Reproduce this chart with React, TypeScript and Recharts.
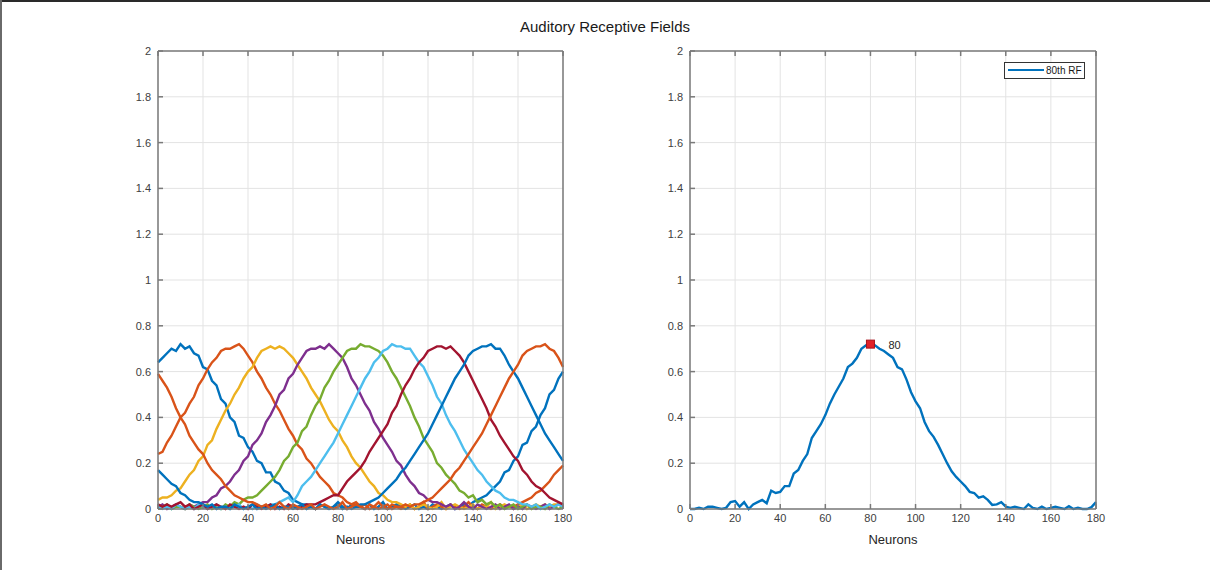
import React from 'react';
import { LineChart, ComposedChart, Line, XAxis, YAxis, CartesianGrid, Legend, ReferenceDot } from 'recharts';

const neurons = [0,2,4,6,8,10,12,14,16,18,20,22,24,26,28,30,32,34,36,38,40,42,44,46,48,50,52,54,56,58,60,62,64,66,68,70,72,74,76,78,80,82,84,86,88,90,92,94,96,98,100,102,104,106,108,110,112,114,116,118,120,122,124,126,128,130,132,134,136,138,140,142,144,146,148,150,152,154,156,158,160,162,164,166,168,170,172,174,176,178,180];

const xTicks = [0, 20, 40, 60, 80, 100, 120, 140, 160, 180];
const yTicks = [0, 0.2, 0.4, 0.6, 0.8, 1, 1.2, 1.4, 1.6, 1.8, 2];

const rfA = [0.64,0.66,0.68,0.70,0.69,0.72,0.70,0.71,0.68,0.67, 0.62,0.61,0.56,0.54,0.48,0.46,0.40,0.38,0.32,0.31, 0.27,0.25,0.21,0.20,0.16,0.16,0.12,0.11,0.08,0.07, 0.04,0.03,0.02,0.02,0.01,0.00,0.02,0.01,0.00,0.01, 0.03,0.01,0.00,0.02,0.01,0.01,0.00,0.02,0.00,0.01, 0.03,0.00,0.01,0.02,0.01,0.00,0.01,0.02,0.00,0.01, 0.00,0.02,0.01,0.00,0.01,0.02,0.00,0.01,0.02,0.01, 0.03,0.04,0.05,0.06,0.08,0.10,0.12,0.16,0.17,0.21, 0.23,0.28,0.29,0.34,0.36,0.41,0.44,0.50,0.52,0.57, 0.60];
const rfB = [0.24,0.25,0.29,0.32,0.36,0.40,0.42,0.46,0.49,0.54, 0.57,0.61,0.64,0.66,0.69,0.70,0.70,0.71,0.72,0.70, 0.67,0.64,0.60,0.57,0.53,0.50,0.46,0.43,0.39,0.35, 0.32,0.28,0.26,0.22,0.20,0.17,0.14,0.12,0.10,0.07, 0.06,0.05,0.03,0.02,0.03,0.01,0.02,0.00,0.01,0.03, 0.01,0.00,0.02,0.01,0.00,0.01,0.02,0.00,0.01,0.03, 0.00,0.01,0.02,0.01,0.00,0.02,0.01,0.00,0.01,0.03, 0.01,0.00,0.02,0.01,0.00,0.01,0.02,0.01,0.01,0.01, 0.02,0.03,0.04,0.05,0.07,0.08,0.10,0.12,0.15,0.17, 0.19];
const rfC = [0.04,0.05,0.05,0.06,0.08,0.09,0.12,0.15,0.17,0.21, 0.23,0.28,0.30,0.35,0.39,0.43,0.46,0.50,0.53,0.57, 0.60,0.62,0.66,0.69,0.70,0.71,0.70,0.71,0.70,0.68, 0.66,0.63,0.60,0.57,0.53,0.50,0.47,0.43,0.39,0.36, 0.34,0.30,0.27,0.23,0.20,0.18,0.15,0.12,0.10,0.07, 0.06,0.04,0.03,0.03,0.02,0.01,0.02,0.00,0.01,0.02, 0.01,0.00,0.01,0.03,0.00,0.01,0.02,0.01,0.00,0.01, 0.02,0.00,0.01,0.01,0.03,0.00,0.01,0.02,0.01,0.00, 0.01,0.02,0.00,0.01,0.02,0.01,0.02,0.01,0.02,0.02, 0.02];
const rfD = [0.01,0.02,0.00,0.01,0.02,0.01,0.00,0.02,0.01,0.02, 0.03,0.03,0.05,0.06,0.09,0.10,0.12,0.15,0.17,0.21, 0.23,0.28,0.30,0.33,0.38,0.41,0.45,0.50,0.52,0.57, 0.59,0.63,0.66,0.69,0.70,0.70,0.71,0.70,0.72,0.70, 0.68,0.66,0.62,0.57,0.54,0.50,0.46,0.43,0.38,0.35, 0.31,0.28,0.25,0.21,0.19,0.15,0.12,0.10,0.07,0.06, 0.04,0.03,0.03,0.02,0.01,0.02,0.00,0.01,0.03,0.01, 0.00,0.02,0.01,0.00,0.01,0.02,0.00,0.01,0.02,0.00, 0.01,0.00,0.02,0.01,0.00,0.01,0.02,0.00,0.01,0.02, 0.01];
const rfE = [0.00,0.01,0.02,0.00,0.01,0.01,0.00,0.02,0.01,0.00, 0.01,0.02,0.00,0.01,0.00,0.02,0.01,0.03,0.02,0.04, 0.05,0.05,0.06,0.08,0.10,0.12,0.14,0.17,0.21,0.23, 0.27,0.29,0.34,0.36,0.41,0.45,0.48,0.53,0.56,0.60, 0.63,0.66,0.69,0.70,0.70,0.72,0.71,0.71,0.70,0.69, 0.67,0.64,0.60,0.57,0.53,0.49,0.45,0.40,0.36,0.31, 0.28,0.25,0.20,0.18,0.15,0.13,0.11,0.08,0.07,0.05, 0.06,0.03,0.04,0.02,0.03,0.01,0.02,0.00,0.01,0.02, 0.00,0.01,0.02,0.00,0.01,0.01,0.00,0.02,0.01,0.00, 0.01];
const rfF = [0.01,0.00,0.01,0.00,0.02,0.01,0.00,0.01,0.00,0.02, 0.01,0.00,0.01,0.02,0.00,0.01,0.00,0.01,0.02,0.00, 0.01,0.00,0.02,0.01,0.01,0.02,0.02,0.03,0.04,0.05, 0.03,0.06,0.10,0.12,0.14,0.17,0.20,0.23,0.26,0.29, 0.33,0.37,0.41,0.45,0.49,0.53,0.57,0.60,0.64,0.66, 0.69,0.70,0.72,0.71,0.71,0.70,0.70,0.67,0.64,0.62, 0.58,0.54,0.49,0.46,0.41,0.37,0.34,0.30,0.26,0.23, 0.20,0.17,0.15,0.12,0.10,0.08,0.07,0.05,0.04,0.04, 0.03,0.02,0.02,0.01,0.02,0.00,0.01,0.02,0.01,0.02, 0.01];
const rfG = [0.02,0.01,0.02,0.01,0.02,0.03,0.01,0.02,0.00,0.01, 0.02,0.00,0.01,0.02,0.01,0.00,0.02,0.01,0.00,0.01, 0.00,0.02,0.01,0.00,0.01,0.02,0.00,0.01,0.00,0.02, 0.01,0.00,0.01,0.02,0.02,0.02,0.03,0.04,0.05,0.06, 0.06,0.09,0.12,0.14,0.16,0.18,0.21,0.25,0.28,0.31, 0.34,0.37,0.42,0.45,0.50,0.54,0.57,0.61,0.64,0.66, 0.69,0.70,0.71,0.71,0.70,0.71,0.69,0.67,0.64,0.60, 0.56,0.52,0.48,0.44,0.39,0.36,0.32,0.29,0.26,0.23, 0.21,0.17,0.15,0.12,0.10,0.09,0.07,0.05,0.04,0.03, 0.02];
const rfH = [0.17,0.15,0.13,0.11,0.10,0.07,0.06,0.04,0.03,0.03, 0.02,0.01,0.02,0.00,0.01,0.01,0.00,0.02,0.01,0.00, 0.01,0.02,0.00,0.01,0.00,0.01,0.02,0.00,0.01,0.01, 0.00,0.01,0.02,0.00,0.01,0.00,0.02,0.01,0.00,0.01, 0.02,0.00,0.01,0.00,0.01,0.02,0.02,0.03,0.04,0.05, 0.07,0.09,0.11,0.13,0.16,0.18,0.21,0.24,0.27,0.30, 0.33,0.37,0.41,0.45,0.49,0.53,0.57,0.60,0.63,0.67, 0.69,0.70,0.71,0.71,0.72,0.70,0.70,0.67,0.63,0.60, 0.57,0.53,0.49,0.45,0.41,0.37,0.33,0.30,0.27,0.24, 0.21];
const rfI = [0.59,0.56,0.53,0.49,0.44,0.40,0.37,0.32,0.29,0.26, 0.24,0.20,0.17,0.15,0.13,0.10,0.08,0.06,0.05,0.04, 0.03,0.03,0.02,0.01,0.02,0.00,0.01,0.03,0.01,0.00, 0.02,0.01,0.00,0.01,0.02,0.00,0.01,0.02,0.01,0.00, 0.01,0.03,0.00,0.01,0.02,0.01,0.00,0.02,0.01,0.00, 0.01,0.02,0.00,0.01,0.01,0.02,0.01,0.02,0.02,0.03, 0.04,0.05,0.07,0.09,0.11,0.13,0.16,0.18,0.21,0.24, 0.27,0.30,0.33,0.37,0.41,0.45,0.49,0.53,0.57,0.60, 0.63,0.67,0.69,0.70,0.71,0.71,0.72,0.70,0.69,0.66, 0.62];

const rf80 = [0.00,0.00,0.005,0.00,0.01,0.01,0.005,0.00,0.005,0.03, 0.035,0.01,0.03,0.00,0.02,0.03,0.04,0.025,0.08,0.07, 0.075,0.10,0.10,0.155,0.17,0.21,0.24,0.31,0.34,0.37, 0.41,0.46,0.50,0.535,0.57,0.62,0.635,0.66,0.70,0.715, 0.72,0.715,0.70,0.69,0.675,0.66,0.62,0.61,0.565,0.51, 0.47,0.44,0.38,0.34,0.315,0.28,0.24,0.20,0.165,0.14, 0.12,0.10,0.075,0.07,0.05,0.055,0.04,0.018,0.02,0.03, 0.01,0.005,0.01,0.005,0.00,0.02,0.005,0.00,0.01,0.00, 0.005,0.01,0.005,0.00,0.012,0.00,0.005,0.00,0.00,0.008, 0.03];

const peakNeuron = 80;
const peakValue = 0.72;

const leftSeries = [
  { key: 'rfA', values: rfA, color: '#0072BD' },
  { key: 'rfB', values: rfB, color: '#D95319' },
  { key: 'rfC', values: rfC, color: '#EDB120' },
  { key: 'rfD', values: rfD, color: '#7E2F8E' },
  { key: 'rfE', values: rfE, color: '#77AC30' },
  { key: 'rfF', values: rfF, color: '#4DBEEE' },
  { key: 'rfG', values: rfG, color: '#A2142F' },
  { key: 'rfH', values: rfH, color: '#0072BD' },
  { key: 'rfI', values: rfI, color: '#D95319' },
];

const leftRows = neurons.map((n, i) => {
  const row: Record<string, number> = { n };
  leftSeries.forEach((s) => { row[s.key] = s.values[i]; });
  return row;
});
const rightRows = neurons.map((n, i) => ({ n, rf80: rf80[i] }));

const FONT = '"Liberation Sans", Arial, Helvetica, sans-serif';
const axisColor = '#7a7a7a';
const gridColor = '#e3e3e3';
const tickStyle = { fontSize: 11, fill: '#404040', fontFamily: FONT };
const empty = () => '';
const LW = 2.4;

function axes() {
  return [
    <CartesianGrid key="g" stroke={gridColor} strokeWidth={1} />,
    <XAxis key="xb" xAxisId={0} dataKey="n" type="number" domain={[0, 180]} ticks={xTicks} interval={0}
      height={40} tickSize={-5} tickMargin={10} stroke={axisColor} strokeWidth={1.5} tick={tickStyle}
      label={{ value: 'Neurons', position: 'insideBottom', offset: 5, fill: '#262626', fontSize: 13, fontFamily: FONT }} />,
    <XAxis key="xt" xAxisId="top" orientation="top" dataKey="n" type="number" domain={[0, 180]} ticks={xTicks} interval={0}
      height={5} tickSize={-5} tickFormatter={empty} stroke={axisColor} strokeWidth={1.5} tick={tickStyle} />,
    <YAxis key="yl" yAxisId={0} type="number" domain={[0, 2]} ticks={yTicks} interval={0}
      width={40} tickSize={-5} tickMargin={12} stroke={axisColor} strokeWidth={1.5} tick={tickStyle} />,
    <YAxis key="yr" yAxisId="right" orientation="right" type="number" domain={[0, 2]} ticks={yTicks} interval={0}
      width={24} tickSize={-5} tickFormatter={empty} stroke={axisColor} strokeWidth={1.5} tick={tickStyle} />,
  ];
}

function LegendBox() {
  return (
    <div style={{ width: 81, height: 17, boxSizing: 'border-box', border: '1px solid #333', background: '#fff', position: 'relative', fontFamily: FONT }}>
      <div style={{ position: 'absolute', left: 3, top: 6, width: 36, height: 2.4, background: '#0072BD' }} />
      <span style={{ position: 'absolute', left: 41, top: 1, fontSize: 10, color: '#1a1a1a', lineHeight: '13px' }}>80th RF</span>
    </div>
  );
}

const PeakMarker = (props: any) => {
  const { cx, cy } = props;
  return (
    <g>
      <rect x={cx - 4} y={cy - 4} width={8} height={8} fill="#e0222a" stroke="#a8121a" strokeWidth={1} />
      <text x={cx + 18} y={cy + 4.5} fontSize={11} fill="#262626" fontFamily={FONT}>{String(peakNeuron)}</text>
    </g>
  );
};

export default function App() {
  return (
    <div style={{ position: 'absolute', left: 0, top: 0, width: 1210, height: 570, background: '#fff', overflow: 'hidden' }}>
      <div style={{ position: 'absolute', left: 0, top: 0, width: 1210, height: 2, background: '#2a2a2a' }} />
      <div style={{ position: 'absolute', left: 0, top: 0, width: 2, height: 570, background: '#6a6a6a' }} />
      <div style={{ position: 'absolute', left: 0, top: 18, width: 1210, textAlign: 'center', fontSize: 15, color: '#1a1a1a', fontFamily: FONT }}>
        Auditory Receptive Fields
      </div>

      <div style={{ position: 'absolute', left: 118, top: 46 }}>
        <LineChart width={469} height={503} data={leftRows} margin={{ top: 0, right: 0, bottom: 0, left: 0 }}>
          {axes()}
          {leftSeries.map((s) => (
            <Line key={s.key} xAxisId={0} yAxisId={0} type="linear" dataKey={s.key} stroke={s.color}
              strokeWidth={LW} dot={false} activeDot={false} isAnimationActive={false} />
          ))}
        </LineChart>
      </div>

      <div style={{ position: 'absolute', left: 650, top: 46 }}>
        <ComposedChart width={470} height={503} data={rightRows} margin={{ top: 0, right: 0, bottom: 0, left: 0 }}>
          {axes()}
          <Line xAxisId={0} yAxisId={0} type="linear" dataKey="rf80" name="80th RF" stroke="#0072BD"
            strokeWidth={LW} dot={false} activeDot={false} isAnimationActive={false} />
          <ReferenceDot xAxisId={0} yAxisId={0} x={peakNeuron} y={peakValue} r={4} shape={PeakMarker} ifOverflow="visible" />
          <Legend layout="horizontal" verticalAlign="middle" align="center" content={() => <LegendBox />}
            wrapperStyle={{ position: 'absolute', top: 16, left: 354, width: 81, height: 17 }} />
        </ComposedChart>
      </div>
    </div>
  );
}
